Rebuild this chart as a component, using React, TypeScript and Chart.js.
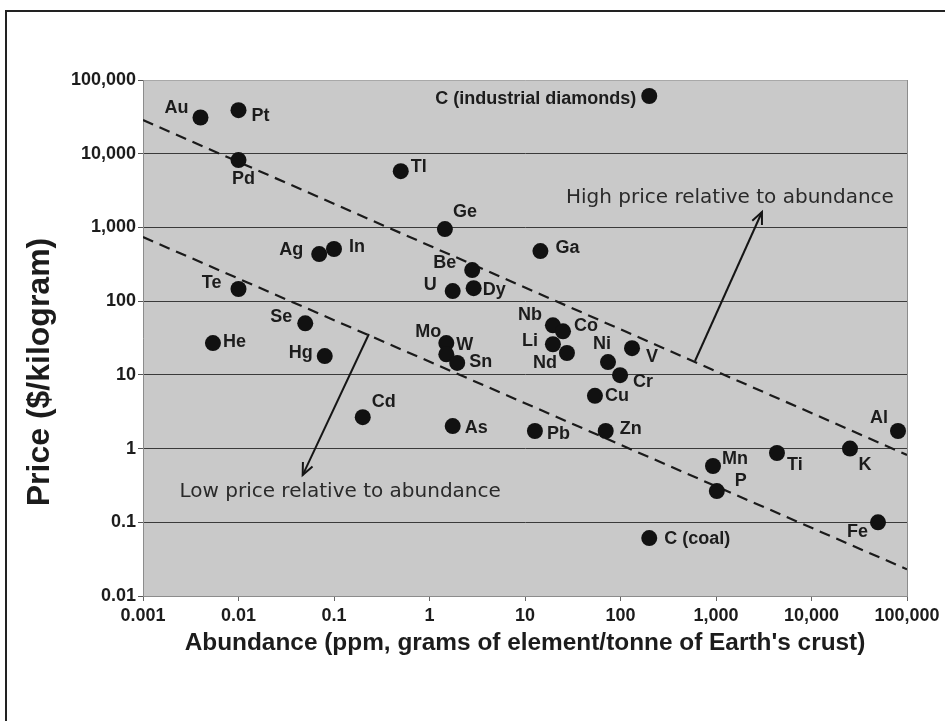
import React, { useEffect, useRef } from "react";
import { Chart, registerables } from "chart.js";

Chart.register(...registerables);

// ---------- DATA ----------
const elements = [
  "Au", "Pt", "Pd", "Tl", "Ge", "Ag", "In", "Be", "U", "Dy", "Te",
  "C (industrial diamonds)", "Ga", "Se", "He", "Hg", "Mo", "W", "Sn", "Cd", "As",
  "Pb", "Nb", "Co", "Li", "Nd", "Ni", "V", "Cr", "Cu", "Zn", "Mn", "P", "Ti", "K",
  "Al", "Fe", "C (coal)",
];
// ppm (grams of element per tonne of Earth's crust)
const abundance = [
  0.004, 0.01, 0.01, 0.5, 1.45, 0.07, 0.1, 2.8, 1.75, 2.9, 0.01,
  200, 14.5, 0.05, 0.0054, 0.08, 1.5, 1.5, 1.95, 0.2, 1.75,
  12.7, 19.6, 25, 19.6, 27.5, 74, 132, 99, 54, 70, 930, 1020, 4350, 25300,
  80500, 49700, 200,
];
// $ per kilogram
const price = [
  31000, 39000, 8200, 5800, 950, 435, 510, 264, 137, 150, 146,
  60700, 478, 50, 27, 18, 27, 19, 14.5, 2.67, 2.02,
  1.73, 47, 39, 26, 19.8, 14.9, 23, 9.9, 5.2, 1.73, 0.58, 0.265, 0.87, 1.0,
  1.73, 0.1, 0.061,
];

const xTickValues = [0.001, 0.01, 0.1, 1, 10, 100, 1000, 10000, 100000];
const xTickLabels = ["0.001", "0.01", "0.1", "1", "10", "100", "1,000", "10,000", "100,000"];
const yTickValues = [0.01, 0.1, 1, 10, 100, 1000, 10000, 100000];
const yTickLabels = ["0.01", "0.1", "1", "10", "100", "1,000", "10,000", "100,000"];

// dashed reference lines
const highLineX = [0.001, 100000];
const highLineY = [28600, 0.82];
const lowLineX = [0.001, 100000];
const lowLineY = [740, 0.023];

// arrows (start on dashed line -> tip)
const highArrowX = [603, 3030];
const highArrowY = [15.4, 1620];
const lowArrowX = [0.232, 0.047];
const lowArrowY = [35.8, 0.437];

const noteTexts = ["High price relative to abundance", "Low price relative to abundance"];
const noteX = [1400, 0.116];
const noteY = [2500, 0.257];

const xTitle = "Abundance (ppm, grams of element/tonne of Earth's crust)";
const yTitle = "Price ($/kilogram)";

// ---------- STYLE ----------
// label placement relative to each point: [dx, dy, align]
const labelPlacement: [number, number, CanvasTextAlign][] = [
  [-12, -9, "right"], [13, 6, "left"], [5, 19, "center"], [10, -4, "left"],
  [8, -17, "left"], [-16, -4, "right"], [15, -2, "left"], [-16, -7, "right"],
  [-16, -6, "right"], [9, 2, "left"], [-17, -6, "right"], [-13, 3, "right"],
  [15, -3, "left"], [-13, -6, "right"], [10, -1, "left"], [-12, -3, "right"],
  [-5, -11, "right"], [10, -9, "left"], [12, -1, "left"], [9, -15, "left"],
  [12, 2, "left"], [12, 3, "left"], [-11, -10, "right"], [11, -5, "left"],
  [-15, -3, "right"], [-10, 10, "right"], [-6, -18, "center"], [14, 9, "left"],
  [13, 7, "left"], [10, 0, "left"], [14, -2, "left"], [9, -7, "left"],
  [18, -10, "left"], [10, 12, "left"], [15, 16, "center"], [-10, -13, "right"],
  [-10, 10, "right"], [15, 1, "left"],
];

const FONT = "'Liberation Sans', Arial, Helvetica, sans-serif";
const INK = "#1c1c1c";

const decorPlugin = {
  id: "decor",
  beforeDraw(chart: any) {
    const { ctx, chartArea: a } = chart;
    ctx.save();
    ctx.fillStyle = "#c9c9c9";
    ctx.fillRect(a.left, a.top, a.right - a.left, a.bottom - a.top);
    ctx.restore();
  },
  afterDatasetsDraw(chart: any) {
    const { ctx, chartArea: a, scales } = chart;
    ctx.save();
    // right border of plot
    ctx.strokeStyle = "#8c8c8c";
    ctx.lineWidth = 1;
    ctx.beginPath();
    ctx.moveTo(a.right + 0.5, a.top);
    ctx.lineTo(a.right + 0.5, a.bottom);
    ctx.stroke();

    // arrowheads
    [3, 4].forEach((di) => {
      const pts = chart.getDatasetMeta(di).data;
      const s = pts[0], t = pts[1];
      const ang = Math.atan2(t.y - s.y, t.x - s.x);
      const L = 13, spread = 0.42;
      ctx.strokeStyle = "#151515";
      ctx.lineWidth = 2;
      ctx.beginPath();
      ctx.moveTo(t.x - L * Math.cos(ang - spread), t.y - L * Math.sin(ang - spread));
      ctx.lineTo(t.x, t.y);
      ctx.lineTo(t.x - L * Math.cos(ang + spread), t.y - L * Math.sin(ang + spread));
      ctx.stroke();
    });

    // point labels
    const meta = chart.getDatasetMeta(0);
    ctx.font = `bold 18px ${FONT}`;
    ctx.fillStyle = INK;
    ctx.textBaseline = "middle";
    meta.data.forEach((el: any, i: number) => {
      const [dx, dy, align] = labelPlacement[i];
      ctx.textAlign = align;
      ctx.fillText(elements[i], el.x + dx, el.y + dy);
    });

    // notes
    ctx.font = `20px 'DejaVu Sans', Verdana, sans-serif`;
    ctx.fillStyle = "#2a2a2a";
    ctx.textAlign = "center";
    noteTexts.forEach((t, i) => {
      ctx.fillText(t, scales.x.getPixelForValue(noteX[i]), scales.y.getPixelForValue(noteY[i]));
    });
    ctx.restore();
  },
  afterDraw(chart: any) {
    const { ctx, chartArea: a } = chart;
    ctx.save();
    // axis titles
    ctx.fillStyle = INK;
    ctx.textAlign = "center";
    ctx.textBaseline = "middle";
    ctx.font = `bold 24.4px ${FONT}`;
    ctx.fillText(xTitle, (a.left + a.right) / 2, 643);
    ctx.translate(40, 372);
    ctx.rotate(-Math.PI / 2);
    ctx.font = `bold 32px ${FONT}`;
    ctx.fillText(yTitle, 0, 0);
    ctx.restore();

    // outer frame
    ctx.save();
    ctx.strokeStyle = "#222";
    ctx.lineWidth = 2;
    ctx.beginPath();
    ctx.moveTo(6, 721);
    ctx.lineTo(6, 11);
    ctx.lineTo(945, 11);
    ctx.stroke();
    ctx.restore();
  },
};

export default function App() {
  const ref = useRef<HTMLCanvasElement>(null);

  useEffect(() => {
    if (!ref.current) return;
    const pts = elements.map((_, i) => ({ x: abundance[i], y: price[i] }));
    const line = (xs: number[], ys: number[]) => xs.map((x, i) => ({ x, y: ys[i] }));
    const chart = new Chart(ref.current, {
      type: "scatter",
      data: {
        datasets: [
          {
            label: "Elements",
            data: pts,
            pointRadius: 8,
            pointHoverRadius: 8,
            backgroundColor: "#111",
            borderWidth: 0,
            showLine: false,
          },
          {
            label: "high",
            data: line(highLineX, highLineY),
            showLine: true,
            borderColor: "#1a1a1a",
            borderWidth: 2.2,
            borderDash: [11, 7],
            pointRadius: 0,
            fill: false,
          },
          {
            label: "low",
            data: line(lowLineX, lowLineY),
            showLine: true,
            borderColor: "#1a1a1a",
            borderWidth: 2.2,
            borderDash: [11, 7],
            pointRadius: 0,
            fill: false,
          },
          {
            label: "arrowHigh",
            data: line(highArrowX, highArrowY),
            showLine: true,
            borderColor: "#151515",
            borderWidth: 2,
            pointRadius: 0,
            fill: false,
          },
          {
            label: "arrowLow",
            data: line(lowArrowX, lowArrowY),
            showLine: true,
            borderColor: "#151515",
            borderWidth: 2,
            pointRadius: 0,
            fill: false,
          },
        ],
      },
      options: {
        responsive: false,
        animation: false,
        events: [],
        layout: { padding: { top: 80, right: 38, bottom: 80, left: 0 } },
        plugins: { legend: { display: false }, tooltip: { enabled: false } },
        scales: {
          x: {
            type: "logarithmic",
            min: 0.001,
            max: 100000,
            afterBuildTicks: (s: any) => {
              s.ticks = xTickValues.map((v) => ({ value: v }));
            },
            afterFit: (s: any) => {
              s.height = 45;
              s.paddingLeft = 0;
              s.paddingRight = 0;
            },
            ticks: {
              autoSkip: false,
              maxRotation: 0,
              padding: 4,
              color: INK,
              font: { family: FONT, size: 18, weight: "bold" },
              callback: (v: any) => xTickLabels[xTickValues.indexOf(Number(v))],
            },
            grid: {
              drawOnChartArea: false,
              drawTicks: true,
              tickLength: 5,
              tickColor: "#666",
            },
            border: { color: "#8c8c8c", width: 1 },
          },
          y: {
            type: "logarithmic",
            min: 0.01,
            max: 100000,
            afterBuildTicks: (s: any) => {
              s.ticks = yTickValues.map((v) => ({ value: v }));
            },
            afterFit: (s: any) => {
              s.width = 143;
              s.paddingTop = 0;
              s.paddingBottom = 0;
            },
            ticks: {
              autoSkip: false,
              padding: 2,
              color: INK,
              font: { family: FONT, size: 18, weight: "bold" },
              callback: (v: any) => yTickLabels[yTickValues.indexOf(Number(v))],
            },
            grid: {
              color: (c: any) => {
                const v = c.tick ? c.tick.value : null;
                if (v === 100000) return "#a8a8a8";
                if (v === 0.01) return "#8c8c8c";
                return "#3a3a3a";
              },
              lineWidth: 1,
              tickLength: 5,
              tickColor: "#555",
            },
            border: { color: "#8c8c8c", width: 1 },
          },
        },
      },
      plugins: [decorPlugin],
    } as any);
    return () => chart.destroy();
  }, []);

  return (
    <div style={{ position: "fixed", left: 0, top: 0, width: 945, height: 721, background: "#fff" }}>
      <canvas ref={ref} width={945} height={721} style={{ display: "block" }} />
    </div>
  );
}
